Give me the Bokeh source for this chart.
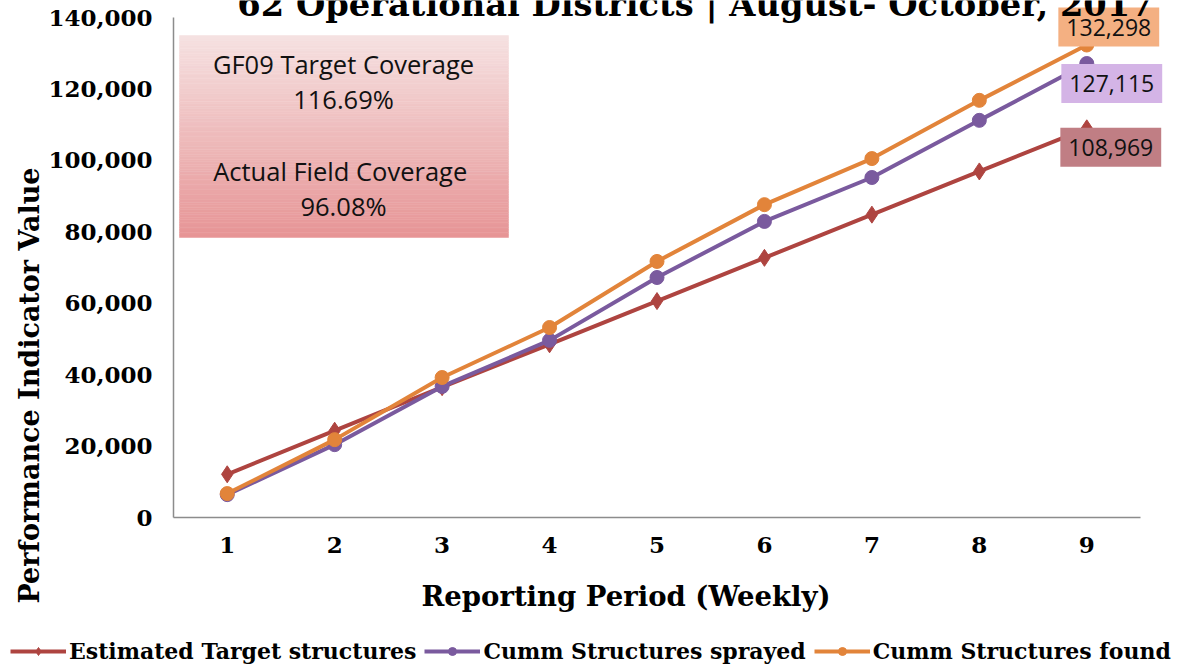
import numpy as np
from bokeh.plotting import figure
from bokeh.layouts import column, row
from bokeh.models import Range1d, FixedTicker, NumeralTickFormatter, Label, Legend, LegendItem, Title
from bokeh.embed import file_html
from bokeh.resources import INLINE

# ---- data ----
weeks = [1, 2, 3, 4, 5, 6, 7, 8, 9]
estimated_target = [12100, 24300, 36500, 48500, 60600, 72700, 84800, 96900, 108969]
structures_sprayed = [6400, 20400, 36700, 49600, 67200, 82900, 95200, 111200, 127115]
structures_found = [6700, 21800, 39200, 53200, 71700, 87600, 100500, 116800, 132298]
series_names = ["Estimated Target structures", "Cumm Structures sprayed", "Cumm Structures found"]
y_ticks = [0, 20000, 40000, 60000, 80000, 100000, 120000, 140000]
title_text = "62 Operational Districts | August- October, 2017"
x_title = "Reporting Period (Weekly)"
y_title = "Performance Indicator Value"
box_lines = ["GF09 Target Coverage", "116.69%", "Actual  Field Coverage", "96.08%"]

RED = "#AE4440"
PURPLE = "#7A5A9E"
ORANGE = "#E2843A"
SERIF = "DejaVu Serif"

MAIN_W = 1183
MAIN_H = 637
LEG_H = 665 - MAIN_H

# ---- main figure ----
p = figure(width=MAIN_W, height=MAIN_H, output_backend="svg", toolbar_location=None, title=None,
           x_range=Range1d(0.5, 0.5 + 1010 * 9.0 / 967.0), y_range=Range1d(0, 140000 * 517 / 500.0),
           min_border_left=173, min_border_right=0, min_border_top=0,
           min_border_bottom=MAIN_H - 517)
p.outline_line_color = None
p.xgrid.visible = False
p.ygrid.visible = False
p.background_fill_color = "white"
p.border_fill_color = "white"

for ax in (p.xaxis[0], p.yaxis[0]):
    ax.axis_line_color = "#8C8C8C"
    ax.axis_line_width = 1.5
    ax.major_tick_line_color = None
    ax.minor_tick_line_color = None
    ax.major_tick_out = 0
    ax.major_tick_in = 0
    ax.major_label_text_font = SERIF
    ax.major_label_text_font_style = "bold"
    ax.major_label_text_font_size = "23px"
    ax.major_label_text_color = "black"

p.xaxis.bounds = (0.5, 9.5)
p.yaxis.bounds = (0, 140000)
p.xaxis.ticker = FixedTicker(ticks=weeks)
p.xaxis.major_label_standoff = 19
p.yaxis.ticker = FixedTicker(ticks=y_ticks)
p.yaxis.formatter = NumeralTickFormatter(format="0,0")
p.yaxis.major_label_standoff = 21

# axis titles as side-panel titles, offset to where the reference has them
p.add_layout(Title(text=x_title, align="left", offset=248, standoff=47, vertical_align="middle",
                   text_font=SERIF, text_font_style="bold", text_font_size="27.5px",
                   text_color="black"), "below")
p.add_layout(Title(text=y_title, align="left", offset=-86, standoff=0, vertical_align="middle",
                   text_font=SERIF, text_font_style="bold", text_font_size="27px",
                   text_color="black"), "left")

# frame pixel -> data helpers (107.44 px per week, 280 per px vertically)
def fx(sx):
    return 0.5 + sx * 9.0 / 967.0
def fy(sy):
    return sy * 140000.0 / 500.0

# ---- gradient text box (decoration) ----
n = 80
tops = np.linspace(482, 280, n + 1)
c_top = np.array([246, 226, 226])
c_bot = np.array([231, 149, 150])
cols = []
for i in range(n):
    t = (i + 0.5) / n
    c = (c_top * (1 - t) + c_bot * t).astype(int)
    cols.append("#%02x%02x%02x" % tuple(c))
p.quad(left=fx(6), right=fx(335), top=[fy(v) for v in tops[:-1]], bottom=[fy(v) for v in tops[1:]],
       fill_color=cols, line_color=cols, line_width=0.5)

for txt, sy in zip(box_lines, [454, 419, 347, 312]):
    p.add_layout(Label(x=170, y=sy, x_units="screen", y_units="screen", text=txt,
                       text_align="center", text_baseline="middle",
                       text_font="Open Sans", text_font_size="25.5px", text_color="#111111"))

# ---- series ----
r1 = p.line(weeks, estimated_target, line_color=RED, line_width=4)
s1 = p.scatter(weeks, estimated_target, marker="diamond", size=17, fill_color=RED, line_color=RED)
r2 = p.line(weeks, structures_sprayed, line_color=PURPLE, line_width=4)
s2 = p.scatter(weeks, structures_sprayed, marker="circle", size=14, fill_color=PURPLE, line_color=PURPLE)
r3 = p.line(weeks, structures_found, line_color=ORANGE, line_width=4)
s3 = p.scatter(weeks, structures_found, marker="circle", size=14, fill_color=ORANGE, line_color=ORANGE)

# ---- data labels at last point ----
lab_specs = [
    (structures_found[-1], "#F4B082", 22, 18),
    (structures_sprayed[-1], "#D4B4E6", 25, -20),
    (estimated_target[-1], "#C07E84", 24, -19),
]
for val, bg, dx, dy in lab_specs:
    p.add_layout(Label(x=weeks[-1], y=val, x_offset=dx, y_offset=dy, text=f"{val:,}",
                       text_align="center", text_baseline="middle",
                       text_font="Open Sans", text_font_size="23px", text_color="#111111",
                       background_fill_color=bg, padding=(8, 11)))

# ---- chart title (clipped at top like the reference) ----
p.add_layout(Label(x=522, y=514, x_units="screen", y_units="screen", text=title_text,
                   text_align="center", text_baseline="alphabetic", text_color="black",
                   text_font=SERIF, text_font_style="bold", text_font_size="33.7px"))

# ---- legend figure ----
pl = figure(width=1183, height=LEG_H, output_backend="svg", toolbar_location=None, title=None,
            x_axis_type=None, y_axis_type=None, x_range=Range1d(-10, -9), y_range=Range1d(-10, -9),
            min_border=0)
pl.outline_line_color = None
pl.xgrid.visible = False
pl.ygrid.visible = False
l1 = pl.line(weeks, estimated_target, line_color=RED, line_width=4)
m1 = pl.scatter(weeks, estimated_target, marker="diamond", size=17, fill_color=RED, line_color=RED)
l2 = pl.line(weeks, structures_sprayed, line_color=PURPLE, line_width=4)
m2 = pl.scatter(weeks, structures_sprayed, marker="circle", size=14, fill_color=PURPLE, line_color=PURPLE)
l3 = pl.line(weeks, structures_found, line_color=ORANGE, line_width=4)
m3 = pl.scatter(weeks, structures_found, marker="circle", size=14, fill_color=ORANGE, line_color=ORANGE)
legend = Legend(items=[LegendItem(label=series_names[0], renderers=[l1, m1]),
                       LegendItem(label=series_names[1], renderers=[l2, m2]),
                       LegendItem(label=series_names[2], renderers=[l3, m3])],
                orientation="horizontal", location=(10, 1),
                glyph_width=56, glyph_height=20, label_standoff=3, spacing=8,
                padding=0, margin=0, border_line_color=None, background_fill_alpha=0,
                label_text_font=SERIF, label_text_font_style="bold", label_text_font_size="22px",
                label_text_color="black")
pl.add_layout(legend, "center")

layout = column(row(p, spacing=0), pl, spacing=0)
open("out.html", "w").write(file_html(layout, INLINE))
